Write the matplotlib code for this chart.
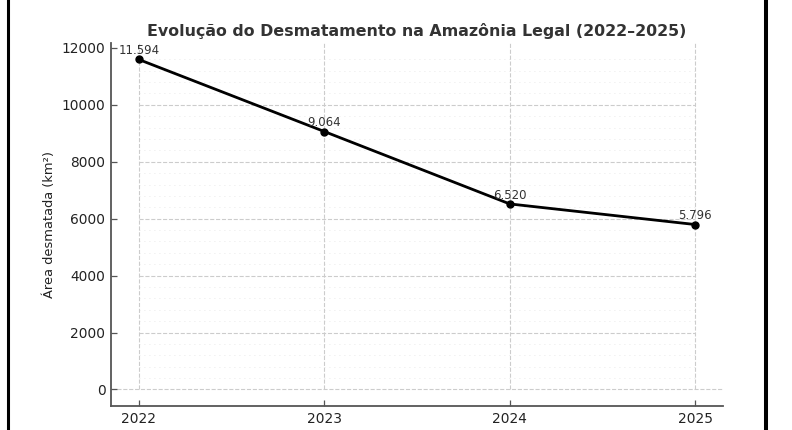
import numpy as np
import matplotlib.pyplot as plt
from matplotlib.lines import Line2D

anos = [2022, 2023, 2024, 2025]
area = [11594, 9064, 6520, 5796]
rotulos = ["11.594", "9.064", "6.520", "5.796"]

titulo = "Evolução do Desmatamento na Amazônia Legal (2022–2025)"
rotulo_y = "Área desmatada (km²)"

cor_grade = "#cccccc"
cor_eixo = "#555555"
cor_texto = "#333333"


def main():
    fig = plt.figure(figsize=(7.92, 4.30), dpi=100)
    ax = fig.add_axes([111 / 792, 1 - 406 / 430, 612 / 792, 363 / 430])

    ax.plot(anos, area, color="black", linewidth=2, marker="o",
            markersize=5, zorder=3)
    ax.axhline(0, color=cor_grade, linestyle="--", linewidth=0.8, zorder=1)

    ax.set_xlim(ax.get_xlim())
    ax.set_ylim(ax.get_ylim())
    topo = ax.get_ylim()[1]

    ax.set_xticks(anos)
    yticks = np.arange(0, 12001, 2000)
    ax.set_yticks(yticks)

    # grade so dentro da faixa dos dados
    ax.vlines(anos, 0, topo, colors=cor_grade, linestyles="--",
              linewidth=0.8, zorder=1)
    ax.hlines([t for t in yticks if 0 < t <= max(area)], anos[0], anos[-1],
              colors=cor_grade, linestyles="--", linewidth=0.8, zorder=1)
    menores = [v for v in np.arange(400, 12000, 400) if v % 2000 != 0]
    ax.hlines(menores, anos[0], anos[-1], colors="#e0e0e0",
              linestyles=(0, (1, 5)), linewidth=0.6, zorder=0)

    for x, y, txt in zip(anos, area, rotulos):
        ax.annotate(txt, (x, y), xytext=(0, 1.5), textcoords="offset points",
                    ha="center", va="bottom", fontsize=8.5, color=cor_texto)

    ax.set_title(titulo, fontsize=11.4, fontweight="bold", color=cor_texto,
                 pad=5)
    ax.set_ylabel(rotulo_y, fontsize=9.4, color="#222222")

    for lado in ["top", "right"]:
        ax.spines[lado].set_visible(False)
    for lado in ["left", "bottom"]:
        ax.spines[lado].set_color(cor_eixo)
        ax.spines[lado].set_linewidth(1.3)
    ax.tick_params(direction="in", length=4.5, width=0.9, color=cor_eixo,
                   labelsize=9.9, labelcolor="#222222", pad=4)

    # bordas pretas da captura
    fig.add_artist(Line2D([8 / 792, 8 / 792], [0, 1], transform=fig.transFigure,
                          color="black", linewidth=2.2))
    fig.add_artist(Line2D([766 / 792, 766 / 792], [0, 1],
                          transform=fig.transFigure, color="black",
                          linewidth=2.9))

    fig.savefig("out.png", dpi=100)


if __name__ == "__main__":
    main()
